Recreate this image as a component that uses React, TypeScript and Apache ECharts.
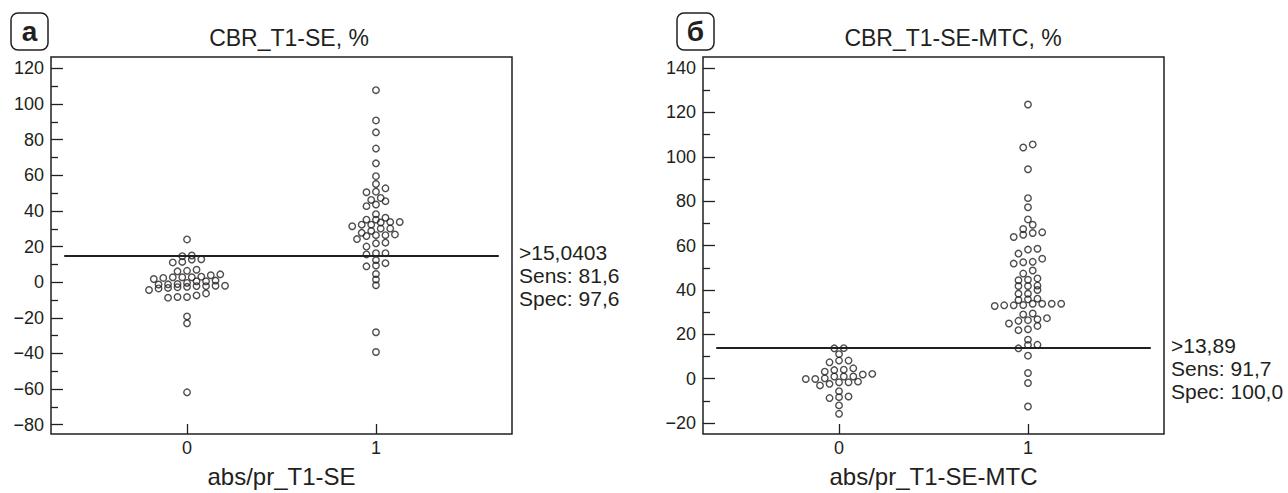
import React, { useEffect, useRef } from "react";
import * as echarts from "echarts";

// ---------- data ----------
const groupLabels = ["0", "1"];

const yTicksA = [-80, -60, -40, -20, 0, 20, 40, 60, 80, 100, 120];
const yMinorA = [-70, -50, -30, -10, 10, 30, 50, 70, 90, 110];
const yTicksB = [-20, 0, 20, 40, 60, 80, 100, 120, 140];
const yMinorB = [-10, 10, 30, 50, 70, 90, 110, 130];

// Panel a: CBR_T1-SE, %
const cbrSE_group0 = [
  24.0, 15.0, 14.6, 11.1, 11.4, 12.7, 12.9, 6.1, 6.4, 7.0,
  1.8, 2.4, 2.8, 2.8, 2.8, 3.1, 3.9, 4.4,
  -4.4, -3.5, -3.2, -2.8, -2.6, -2.2, -2.2, -2.0, -2.0,
  -1.3, -1.2, -1.0, -0.4, 0.5, 0.5, 0.9,
  -8.7, -8.3, -8.3, -7.4, -6.3, -19.2, -23.1, -61.8,
];
const cbrSE_group1 = [
  107.8, 90.8, 84.1, 75.0, 66.7, 59.5, 55.1, 50.5, 50.8, 52.7,
  46.2, 47.3, 42.7, 43.6, 45.5, 38.2, 35.1, 35.1, 36.2,
  31.4, 32.3, 32.3, 33.5, 33.8, 33.8, 27.7, 28.8, 30.1, 30.1,
  24.2, 25.9, 26.4, 26.4, 26.8, 20.0, 21.8, 22.2, 15.6, 16.3, 16.3,
  12.4, 8.9, 9.4, 10.7, 4.6, 1.5, -1.7, -28.1, -39.2,
];

// Panel б: CBR_T1-SE-MTC, %
const cbrMTC_group0 = [
  13.8, 13.7, 11.1, 7.4, 8.2, 8.2, 3.2, 3.9, 4.1, 4.7,
  -0.1, -0.1, 0.2, 1.0, 1.0, 1.0, 1.9, 2.2,
  -3.0, -2.3, -1.6, -1.6, -1.3, -5.6, -8.7, -8.3, -8.0, -12.0, -15.8,
];
const cbrMTC_group1 = [
  123.6, 105.6, 104.2, 94.4, 81.4, 77.3, 71.8, 69.4, 67.5, 66.0,
  65.7, 64.9, 63.9, 58.6, 58.2, 56.4, 54.1, 52.7, 52.5, 51.9,
  48.8, 47.4, 45.2, 44.6, 44.4, 42.0, 41.8, 41.8, 40.0, 38.3,
  38.3, 36.1, 35.8, 35.5, 33.8, 33.8, 33.8, 33.8, 33.2, 33.1,
  33.1, 32.8, 29.4, 29.0, 27.3, 26.8, 26.4, 26.1, 24.9, 23.8,
  22.3, 21.9, 17.6, 15.3, 15.2, 13.7, 10.4, 2.6, -1.9, -12.5,
];

const cutoffA = 15.0403;
const cutoffB = 13.89;
const statsA = [">15,0403", "Sens: 81,6", "Spec: 97,6"];
const statsB = [">13,89", "Sens: 91,7", "Spec: 100,0"];

const titleA = "CBR_T1-SE, %";
const titleB = "CBR_T1-SE-MTC, %";
const xNameA = "abs/pr_T1-SE";
const xNameB = "abs/pr_T1-SE-MTC";

// ---------- layout / style ----------
const FONT = "'Liberation Sans', Arial, Helvetica, sans-serif";
const INK = "#231f20";
const X_MIN = -0.72;
const X_MAX = 1.72;
const Y_RANGE_A = [-85.2, 126.4];
const Y_RANGE_B = [-24.9, 145.0];
const GRID_W = 461;
const GRID_H = 381;
const DOT_SPACING_PX = 9.5;

// MedCalc-like dot plot: values grouped into horizontal rows, spread symmetrically
function dotPlot(values: number[], center: number, band: number): number[][] {
  const sorted = [...values].sort((a, b) => a - b);
  const rows: number[][] = [];
  let cur: number[] = [];
  let start = 0;
  for (const v of sorted) {
    if (cur.length && v - start < band) cur.push(v);
    else {
      if (cur.length) rows.push(cur);
      cur = [v];
      start = v;
    }
  }
  if (cur.length) rows.push(cur);
  const step = DOT_SPACING_PX / (GRID_W / (X_MAX - X_MIN));
  const pts: number[][] = [];
  rows.forEach((row) =>
    row.forEach((v, i) => pts.push([center + (i - (row.length - 1) / 2) * step, v]))
  );
  return pts;
}

const fmtY = (v: number) => (v < 0 ? "\u2212" + Math.abs(v) : String(v));

function xAxisFor(gridIndex: number, name: string) {
  return {
    type: "value",
    gridIndex,
    min: X_MIN,
    max: X_MAX,
    name,
    nameLocation: "middle",
    nameGap: 30,
    nameTextStyle: { fontFamily: FONT, fontSize: 24, color: INK },
    axisLine: { show: false, onZero: false },
    axisTick: {
      show: true,
      inside: true,
      length: 10,
      customValues: [0, 1],
      lineStyle: { color: INK, width: 1.3 },
    },
    axisLabel: {
      show: true,
      customValues: [0, 1],
      margin: 5,
      fontFamily: FONT,
      fontSize: 18,
      color: INK,
      formatter: (v: number) => groupLabels[Math.round(v)],
    },
    splitLine: { show: false },
  };
}

function yAxesFor(gridIndex: number, range: number[], major: number[], minor: number[]) {
  return [
    {
      type: "value",
      gridIndex,
      min: range[0],
      max: range[1],
      position: "left",
      axisLine: { show: false, onZero: false },
      axisTick: {
        show: true,
        inside: true,
        length: 12,
        customValues: major,
        lineStyle: { color: INK, width: 1.3 },
      },
      axisLabel: {
        show: true,
        customValues: major,
        margin: 7,
        fontFamily: FONT,
        fontSize: 18,
        color: INK,
        formatter: fmtY,
      },
      splitLine: { show: false },
    },
    {
      type: "value",
      gridIndex,
      min: range[0],
      max: range[1],
      position: "left",
      axisLine: { show: false, onZero: false },
      axisTick: {
        show: true,
        inside: true,
        length: 7,
        customValues: minor,
        lineStyle: { color: INK, width: 1.3 },
      },
      axisLabel: { show: false },
      splitLine: { show: false },
    },
  ];
}

function dotSeries(xAxisIndex: number, yAxisIndex: number, data: number[][], cutoff?: number) {
  const s: any = {
    type: "scatter",
    xAxisIndex,
    yAxisIndex,
    data,
    symbol: "circle",
    symbolSize: 6.5,
    silent: true,
    itemStyle: { color: "rgba(0,0,0,0)", borderColor: INK, borderWidth: 1.4 },
  };
  if (cutoff !== undefined) {
    s.markLine = {
      silent: true,
      symbol: ["none", "none"],
      label: { show: false },
      lineStyle: { color: INK, width: 2, type: "solid" },
      data: [[{ coord: [-0.65, cutoff] }, { coord: [1.65, cutoff] }]],
    };
  }
  return s;
}

function badge(x: number, y: number, letter: string) {
  return [
    {
      type: "rect",
      shape: { x, y, width: 37, height: 37, r: 7 },
      style: { fill: "none", stroke: INK, lineWidth: 1.5 },
    },
    {
      type: "text",
      x: x + 18.5,
      y: y + 18,
      style: {
        text: letter,
        fontFamily: FONT,
        fontWeight: "bold",
        fontSize: 28,
        fill: INK,
        align: "center",
        verticalAlign: "middle",
      },
    },
  ];
}

function titleText(x: number, text: string) {
  return {
    type: "text",
    x,
    y: 38,
    style: {
      text,
      fontFamily: FONT,
      fontSize: 23,
      fill: INK,
      align: "center",
      verticalAlign: "middle",
    },
  };
}

export default function App() {
  const ref = useRef<HTMLDivElement>(null);

  useEffect(() => {
    if (!ref.current) return;
    const chart = echarts.init(ref.current, undefined, { renderer: "svg" });

    const bandA = 3.0;
    const bandB = 2.5;
    const ptsA = [...dotPlot(cbrSE_group0, 0, bandA), ...dotPlot(cbrSE_group1, 1, bandA)];
    const ptsB = [...dotPlot(cbrMTC_group0, 0, bandB), ...dotPlot(cbrMTC_group1, 1, bandB)];

    const option: any = {
      animation: false,
      backgroundColor: "#ffffff",
      textStyle: { fontFamily: FONT },
      grid: [
        {
          left: 51, top: 57, width: GRID_W, height: GRID_H,
          show: true, borderColor: INK, borderWidth: 1.5, backgroundColor: "transparent",
        },
        {
          left: 703, top: 57, width: GRID_W, height: GRID_H,
          show: true, borderColor: INK, borderWidth: 1.5, backgroundColor: "transparent",
        },
      ],
      xAxis: [xAxisFor(0, xNameA), xAxisFor(1, xNameB)],
      yAxis: [
        ...yAxesFor(0, Y_RANGE_A, yTicksA, yMinorA),
        ...yAxesFor(1, Y_RANGE_B, yTicksB, yMinorB),
      ],
      series: [dotSeries(0, 0, ptsA, cutoffA), dotSeries(1, 2, ptsB, cutoffB)],
    };
    chart.setOption(option);

    const pa = chart.convertToPixel({ seriesIndex: 0 }, [X_MAX, cutoffA]) as number[];
    const pb = chart.convertToPixel({ seriesIndex: 1 }, [X_MAX, cutoffB]) as number[];

    const statText = (p: number[], lines: string[]) => ({
      type: "text",
      x: p[0] + 7,
      y: p[1] - 14,
      style: {
        text: lines.join("\n"),
        fontFamily: FONT,
        fontSize: 21,
        lineHeight: 23,
        fill: INK,
        align: "left",
        verticalAlign: "top",
      },
    });

    chart.setOption({
      graphic: [
        ...badge(11, 13, "а"),
        ...badge(677, 13, "б"),
        titleText(289, titleA),
        titleText(953, titleB),
        statText(pa, statsA),
        statText(pb, statsB),
      ],
    });

    return () => chart.dispose();
  }, []);

  return (
    <div
      ref={ref}
      style={{ position: "absolute", left: 0, top: 0, width: 1288, height: 493, background: "#fff" }}
    />
  );
}
